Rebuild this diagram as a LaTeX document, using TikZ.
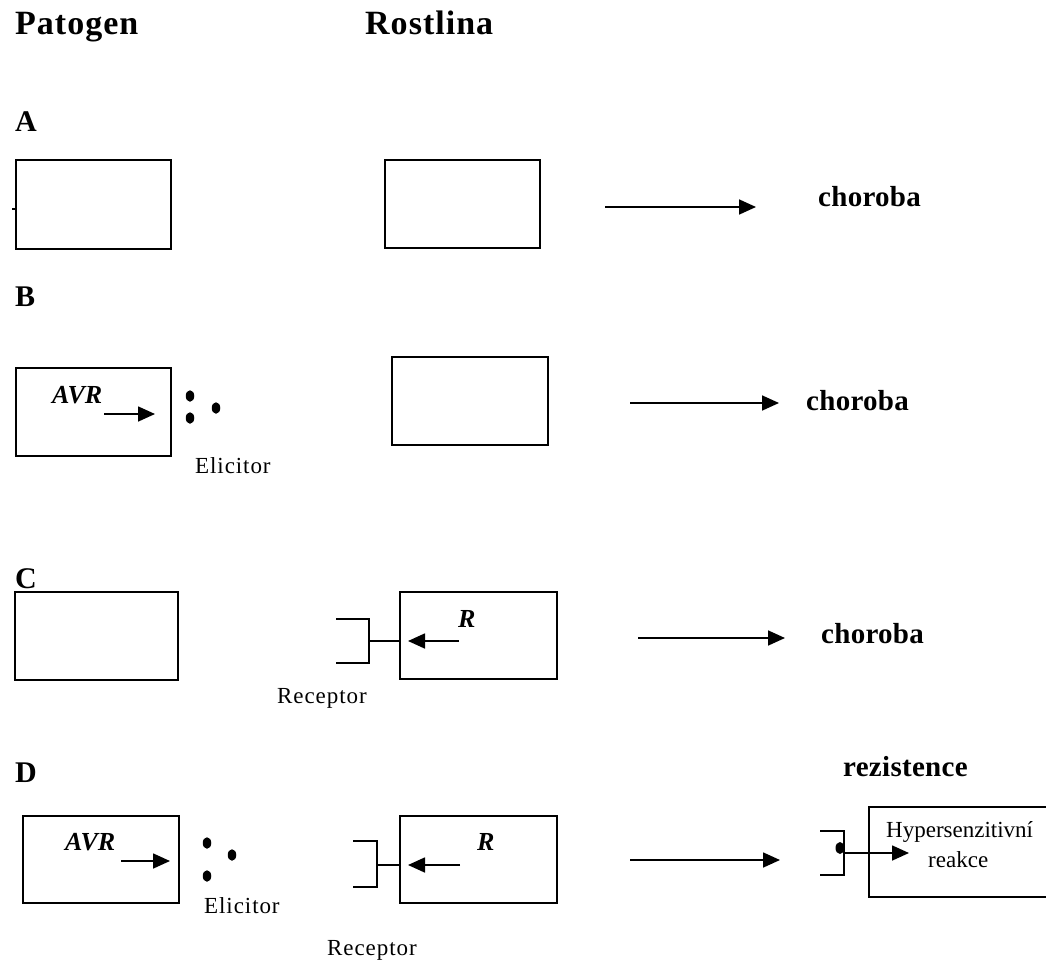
\documentclass[tikz,border=0pt]{standalone}
\usepackage{fontspec}
\setmainfont{Liberation Serif}
\usetikzlibrary{arrows.meta,shapes.geometric}
\begin{document}
\begin{tikzpicture}[x=1pt,y=-1pt,
  box/.style={draw,line width=1.7pt,inner sep=0pt,rectangle},
  arr/.style={line width=1.7pt,-{Triangle[length=17pt,width=15pt]}},
  ln/.style={line width=1.7pt},
  head/.style={font=\fontsize{34}{40}\selectfont\bfseries\addfontfeature{LetterSpace=3},anchor=base west,inner sep=0pt},
  lab/.style={font=\fontsize{30}{36}\selectfont\bfseries,anchor=base west,inner sep=0pt},
  res/.style={font=\fontsize{29}{34}\selectfont\bfseries\addfontfeature{LetterSpace=1},anchor=base west,inner sep=0pt},
  gene/.style={font=\fontsize{26}{30}\selectfont\bfseries\itshape,anchor=base west,inner sep=0pt},
  txt/.style={font=\fontsize{23}{28}\selectfont\addfontfeature{LetterSpace=4},anchor=base west,inner sep=0pt},
  boxtxt/.style={font=\fontsize{23}{28}\selectfont,anchor=base west,inner sep=0pt},
  dotn/.style={ellipse,fill,inner sep=0pt,minimum width=8.5pt,minimum height=11.5pt}
]
\useasboundingbox (0,0) rectangle (1046,960);

% headers
\node[head] (hpat) at (15,35) {Patogen};
\node[head] (hros) at (365,35) {Rostlina};
\node[lab] (lA) at (15,132) {A};
\node[lab] (lB) at (15,306) {B};
\node[lab] (lC) at (15,588) {C};
\node[lab] (lD) at (15,782) {D};

% Row A
\node[box,minimum width=155pt,minimum height=89pt] (A1) at (93.5,204.5) {};
\node[box,minimum width=155pt,minimum height=88pt] (A2) at (462.5,204) {};
\coordinate (atick1) at (12,209);
\coordinate (atick2) at (16,209);
\draw[line width=2pt] (atick1) -- (atick2);
\coordinate (aS) at (605,207);
\coordinate (aE) at (756,207);
\draw[arr] (aS) -- (aE);
\node[res] (chA) at (818,207) {choroba};

% Row B
\node[box,minimum width=155pt,minimum height=88pt] (B1) at (93.5,412) {};
\node[gene] (avrB) at (52,403) {AVR};
\coordinate (bS) at (104,414);
\coordinate (bE) at (155,414);
\draw[arr] (bS) -- (bE);
\node[dotn] (bd1) at (190,396) {};
\node[dotn] (bd2) at (190,418) {};
\node[dotn] (bd3) at (216,408) {};
\node[txt] (elB) at (195,473) {Elicitor};
\node[box,minimum width=156pt,minimum height=88pt] (B2) at (470,401) {};
\coordinate (b2S) at (630,403);
\coordinate (b2E) at (779,403);
\draw[arr] (b2S) -- (b2E);
\node[res] (chB) at (806,410) {choroba};

% Row C
\node[box,minimum width=163pt,minimum height=88pt] (C1) at (96.5,636) {};
\node[box,minimum width=157pt,minimum height=87pt] (C2) at (478.5,635.5) {};
\coordinate (cT) at (336,619);
\coordinate (cTR) at (369,619);
\coordinate (cBR) at (369,663);
\coordinate (cB) at (336,663);
\coordinate (cM) at (369,641);
\draw[ln] (cT) -- (cTR) -- (cBR) -- (cB);
\draw[ln] (cM) -- (cM -| C2.west);
\node[gene] (rC) at (458,627) {R};
\coordinate (crS) at (459,641);
\coordinate (crE) at (408,641);
\draw[arr] (crS) -- (crE);
\node[txt] (recC) at (277,703) {Receptor};
\coordinate (c2S) at (638,638);
\coordinate (c2E) at (785,638);
\draw[arr] (c2S) -- (c2E);
\node[res] (chC) at (821,643) {choroba};

% Row D
\node[box,minimum width=156pt,minimum height=87pt] (D1) at (101,859.5) {};
\node[gene] (avrD) at (65,850) {AVR};
\coordinate (dS) at (121,861);
\coordinate (dE) at (170,861);
\draw[arr] (dS) -- (dE);
\node[dotn] (dd1) at (207,843) {};
\node[dotn] (dd2) at (232,855) {};
\node[dotn] (dd3) at (207,876) {};
\node[txt] (elD) at (204,913) {Elicitor};
\node[box,minimum width=157pt,minimum height=87pt] (D2) at (478.5,859.5) {};
\coordinate (dT) at (353,841);
\coordinate (dTR) at (377,841);
\coordinate (dBR) at (377,887);
\coordinate (dB) at (353,887);
\coordinate (dM) at (377,865);
\draw[ln] (dT) -- (dTR) -- (dBR) -- (dB);
\draw[ln] (dM) -- (dM -| D2.west);
\node[gene] (rD) at (477,850) {R};
\coordinate (drS) at (460,865);
\coordinate (drE) at (408,865);
\draw[arr] (drS) -- (drE);
\node[txt] (recD) at (327,955) {Receptor};
\coordinate (d2S) at (630,860);
\coordinate (d2E) at (780,860);
\draw[arr] (d2S) -- (d2E);

% resistance outcome
\node[res] (rez) at (843,776) {rezistence};
\coordinate (hTR) at (1046,807);
\coordinate (hTL) at (869,807);
\coordinate (hBL) at (869,897);
\coordinate (hBR) at (1046,897);
\draw[ln] (hTR) -- (hTL) -- (hBL) -- (hBR);
\node[dotn,minimum width=9pt,minimum height=12pt] (hdot) at (840,848) {};
\coordinate (eT) at (820,831);
\coordinate (eTR) at (844,831);
\coordinate (eBR) at (844,875);
\coordinate (eB) at (820,875);
\draw[ln] (eT) -- (eTR) -- (eBR) -- (eB);
\coordinate (hS) at (844,853);
\coordinate (hE) at (909,853);
\draw[arr] (hS) -- (hE);
\node[boxtxt] (hyp) at (886,837) {Hypersenzitivní};
\node[boxtxt] (rea) at (928,867) {reakce};
\end{tikzpicture}
\end{document}
